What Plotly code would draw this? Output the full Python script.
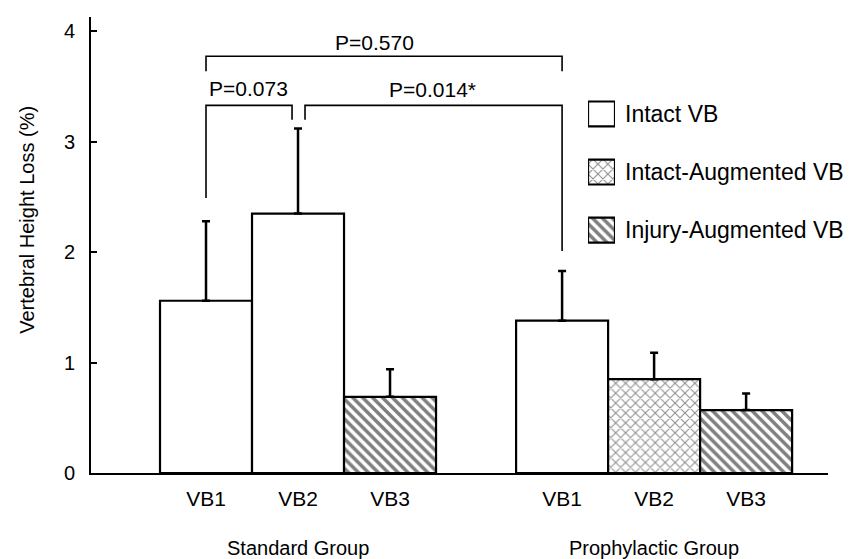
import plotly.graph_objects as go

# ---- data ----
groups = ["Standard Group", "Prophylactic Group"]
vb_labels = ["VB1", "VB2", "VB3"]
standard_means = [1.56, 2.35, 0.69]
standard_err = [0.72, 0.77, 0.25]
prophylactic_means = [1.38, 0.85, 0.57]
prophylactic_err = [0.45, 0.24, 0.15]
standard_types = ["Intact VB", "Intact VB", "Injury-Augmented VB"]
prophylactic_types = ["Intact VB", "Intact-Augmented VB", "Injury-Augmented VB"]
legend_types = ["Intact VB", "Intact-Augmented VB", "Injury-Augmented VB"]
p_labels = ["P=0.570", "P=0.073", "P=0.014*"]

# ---- styles ----
FONT = "Liberation Sans, Arial, sans-serif"
pattern_style = {
    "Intact VB": dict(shape="", fgcolor="black", size=8, solidity=0.3),
    "Intact-Augmented VB": dict(shape="x", fgcolor="#222222", size=7, solidity=0.3),
    "Injury-Augmented VB": dict(shape="\\", fgcolor="black", size=7, solidity=0.5),
}

GAP = 0.87
pos_std = [i for i in range(3)]
pos_pro = [3 + GAP + i for i in range(3)]

xs = pos_std + pos_pro
ys = standard_means + prophylactic_means
errs = standard_err + prophylactic_err
types = standard_types + prophylactic_types

def pattern_for(tlist):
    return dict(
        shape=[pattern_style[t]["shape"] for t in tlist],
        fgcolor=[pattern_style[t]["fgcolor"] for t in tlist],
        bgcolor="white",
        size=[pattern_style[t]["size"] for t in tlist],
        solidity=[pattern_style[t]["solidity"] for t in tlist],
        fillmode="overlay",
    )

fig = go.Figure()
fig.add_trace(go.Bar(
    x=xs, y=ys, width=1.0,
    marker=dict(color="white", line=dict(color="black", width=2.2),
                pattern=pattern_for(types)),
    error_y=dict(type="data", symmetric=False, array=errs,
                 arrayminus=[0] * len(errs), color="black",
                 thickness=2.5, width=4),
    showlegend=False, hoverinfo="skip",
))

# legend swatches on a small inset axis
fig.add_trace(go.Bar(
    x=[1, 1, 1], y=[0, 1, 2], orientation="h", width=0.43,
    xaxis="x2", yaxis="y2",
    marker=dict(color="white", line=dict(color="black", width=2.2),
                pattern=pattern_for(legend_types)),
    showlegend=False, hoverinfo="skip",
))

annotations = []
for k, t in enumerate(legend_types):
    annotations.append(dict(x=1, y=k, xref="x2", yref="y2", text=t,
                            showarrow=False, xanchor="left", yanchor="middle",
                            xshift=8, font=dict(size=23, color="black", family=FONT)))

# group labels
for g, p in zip(groups, [pos_std[1], pos_pro[1]]):
    annotations.append(dict(x=p, y=-0.1645, xref="x", yref="paper", text=g,
                            showarrow=False, xanchor="center", yanchor="middle",
                            font=dict(size=20, color="black", family=FONT)))

# y axis title
annotations.append(dict(x=-0.087, y=0.555, xref="paper", yref="paper",
                        text="Vertebral Height Loss (%)", textangle=-90,
                        showarrow=False, xanchor="center", yanchor="middle",
                        font=dict(size=20, color="black", family=FONT)))

# significance brackets
shapes = []
def bracket(x0, x1, ytop, yl, yr):
    shapes.append(dict(type="path", xref="x", yref="y",
                       path=f"M {x0},{yl} L {x0},{ytop} L {x1},{ytop} L {x1},{yr}",
                       line=dict(color="black", width=1.6)))

bracket(pos_std[0], pos_pro[0], 3.774, 3.638, 3.638)
bracket(pos_std[0], 0.935, 3.33, 2.49, 3.20)
bracket(1.076, pos_pro[0], 3.33, 3.20, 2.01)

for txt, xx, yy in zip(p_labels, [1.83, 0.457, 2.46], [3.90, 3.48, 3.47]):
    annotations.append(dict(x=xx, y=yy, xref="x", yref="y", text=txt,
                            showarrow=False, xanchor="center", yanchor="middle",
                            font=dict(size=21, color="black", family=FONT)))

# the page body adds an 8px margin, so the figure is 8px smaller
fig.update_layout(
    width=856, height=551,
    margin=dict(l=83, r=36, t=9, b=86, pad=0),
    paper_bgcolor="white", plot_bgcolor="white",
    barmode="overlay",
    font=dict(family=FONT, color="black", size=20),
    xaxis=dict(range=[-1.25, 6.76], tickvals=xs, ticktext=vb_labels * 2,
               showline=True, linecolor="black", linewidth=2, ticks="",
               showgrid=False, zeroline=False, tickfont=dict(size=21),
               ticklabelstandoff=6),
    yaxis=dict(range=[0, 4.13], tickvals=[0, 1, 2, 3, 4],
               showline=True, linecolor="black", linewidth=2,
               ticks="inside", ticklen=6, tickwidth=2, tickcolor="black",
               showgrid=False, zeroline=False, tickfont=dict(size=20),
               ticklabelstandoff=10),
    xaxis2=dict(domain=[0.6744, 0.7110], range=[0, 1], visible=False,
                anchor="y2", fixedrange=True),
    yaxis2=dict(domain=[0.469, 0.851], range=[2.5, -0.5], visible=False,
                anchor="x2", fixedrange=True),
    shapes=shapes,
    annotations=annotations,
    showlegend=False,
)

fig.write_html("out.html")
